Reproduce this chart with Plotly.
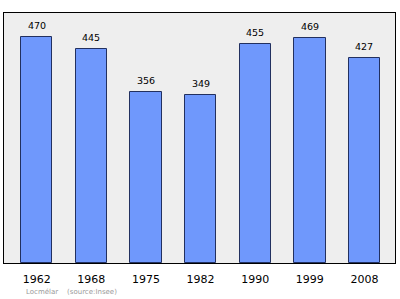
import plotly.graph_objects as go

years = ["1962", "1968", "1975", "1982", "1990", "1999", "2008"]
population = [470, 445, 356, 349, 455, 469, 427]
source_text = "Locmélar    (source:Insee)"

xpos = list(range(len(years)))

fig = go.Figure()
fig.add_trace(go.Bar(
    x=xpos, y=population, width=0.575,
    marker=dict(color="#6f98fc", line=dict(color="#22305f", width=1)),
    hoverinfo="skip",
))

annotations = [
    dict(x=x, y=v, xref="x", yref="y", text=str(v), showarrow=False,
         yanchor="bottom", yshift=4,
         font=dict(family="DejaVu Sans", size=9.5, color="#000"))
    for x, v in zip(xpos, population)
]
annotations.append(dict(
    text=source_text, xref="paper", yref="paper", x=0.051, y=-0.116,
    xanchor="left", yanchor="middle", showarrow=False,
    font=dict(family="DejaVu Sans", size=7, color="#999999"),
))

fig.update_layout(
    width=400, height=299,
    margin=dict(l=4, r=5, t=13, b=36),
    paper_bgcolor="white", plot_bgcolor="#eeeeee",
    showlegend=False, bargap=0,
    xaxis=dict(
        range=[-0.6, 6.56], tickmode="array", tickvals=xpos, ticktext=years,
        showgrid=False, zeroline=False, ticks="", ticklabelstandoff=6,
        tickfont=dict(family="DejaVu Sans", size=11, color="#000"),
        showline=True, linecolor="#000", linewidth=1, mirror=True,
    ),
    yaxis=dict(
        range=[0, 520], showticklabels=False, showgrid=False, zeroline=False,
        ticks="", showline=True, linecolor="#000", linewidth=1, mirror=True,
    ),
    annotations=annotations,
)

fig.write_html("out.html")
